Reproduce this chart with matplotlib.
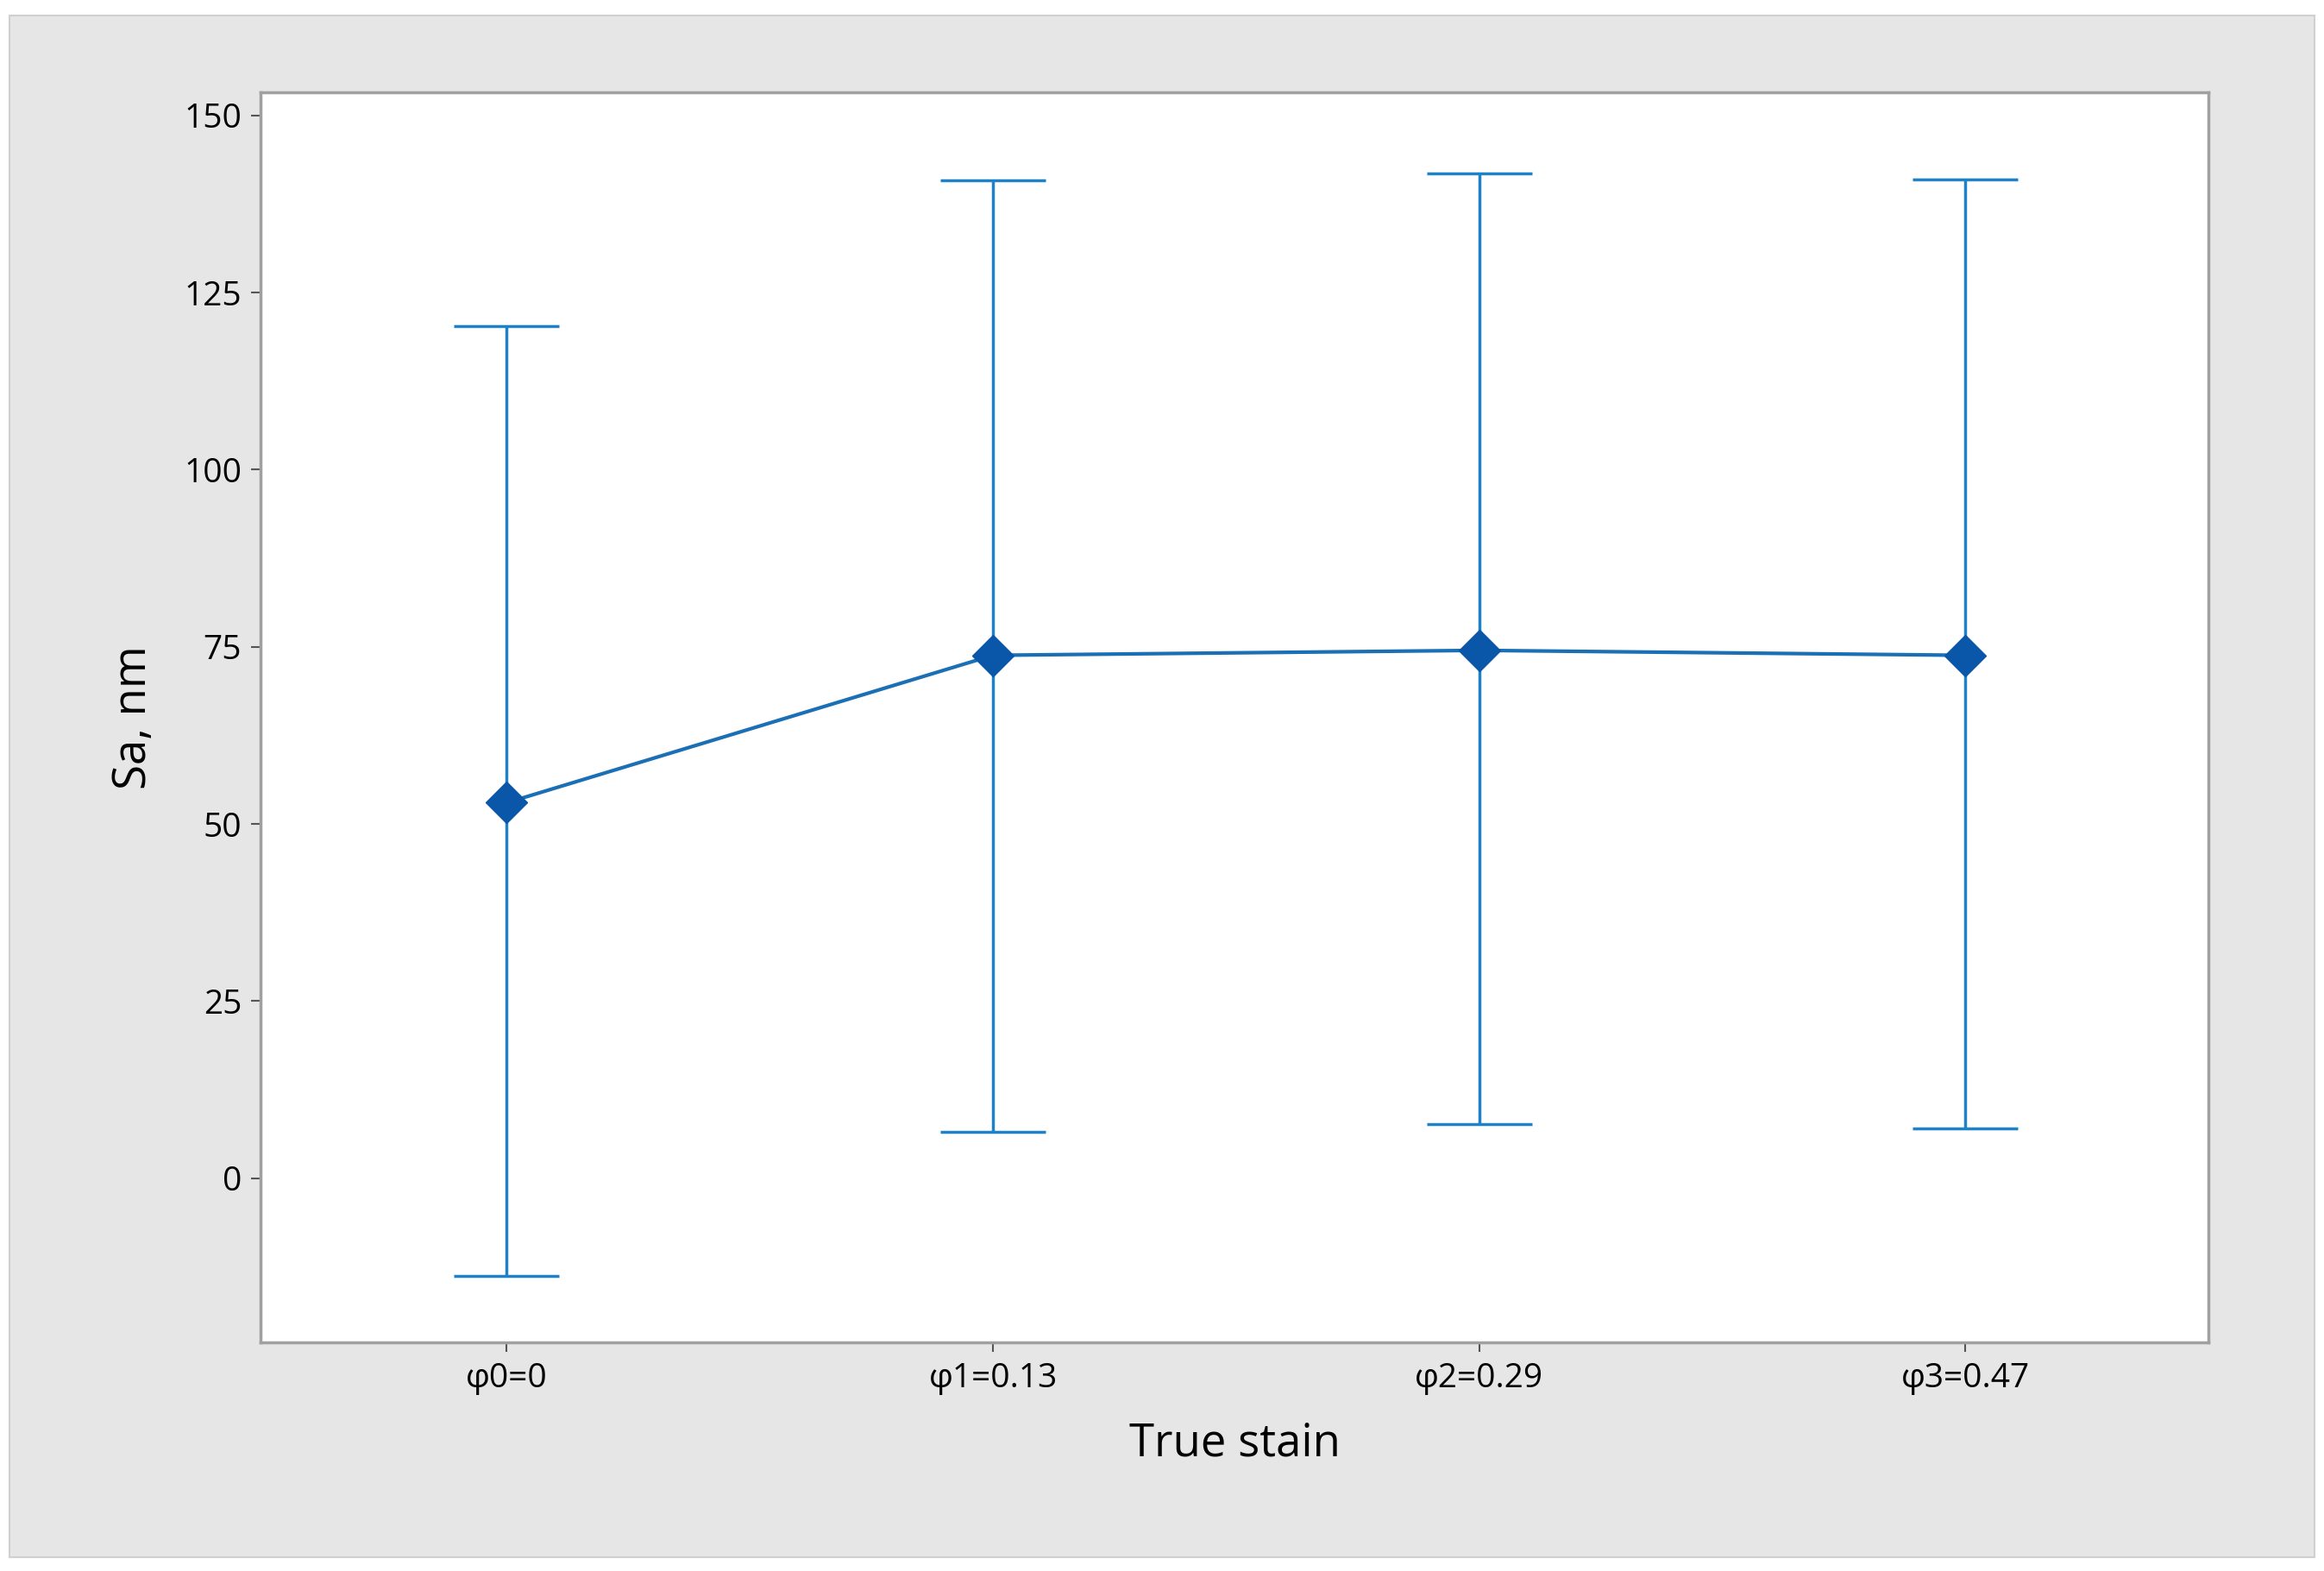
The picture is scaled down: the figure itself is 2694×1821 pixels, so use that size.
import matplotlib
matplotlib.use("Agg")
import matplotlib.pyplot as plt
from matplotlib.patches import Rectangle

categories = ["φ0=0", "φ1=0.13", "φ2=0.29", "φ3=0.47"]
means = [53.0, 73.8, 74.5, 73.8]
upper = [120.3, 140.8, 141.8, 141.0]
lower = [-13.8, 6.6, 7.6, 7.0]

plt.rcParams['font.family'] = ['Open Sans', 'DejaVu Sans']
fig = plt.figure(figsize=(26.94, 18.21), dpi=100)
fig.patch.set_facecolor('white')
fig.patches.append(Rectangle((0.004, 0.009), 0.992, 0.981, transform=fig.transFigure,
                             facecolor='#e6e6e6', edgecolor='#d0d0d0', lw=1.5, zorder=-10))
ax = fig.add_axes([0.1122, 0.1453, 0.8381, 0.7962])
ax.set_facecolor('white')
x = list(range(len(categories)))
col = '#1f82c8'
yerr = [[m - l for m, l in zip(means, lower)], [u - m for m, u in zip(means, upper)]]
ax.errorbar(x, means, yerr=yerr, fmt='none', ecolor=col, elinewidth=2.5, capsize=44, capthick=2.5)
ax.plot(x, means, color='#1a6fb5', lw=3)
ax.plot(x, means, 'D', color='#0a56a8', markersize=24, ls='none')
ax.set_xlim(-0.506, 3.5)
ax.set_ylim(-23.2, 153.3)
ax.set_yticks([0, 25, 50, 75, 100, 125, 150])
ax.set_xticks(x)
ax.set_xticklabels(categories)
ax.tick_params(labelsize=28, length=8, width=1.5, color='#555555', pad=8)
for s in ax.spines.values():
    s.set_color('#a0a0a0'); s.set_linewidth(2.5)
ax.set_xlabel("True stain", fontsize=38, fontweight='medium', labelpad=22)
ax.set_ylabel("Sa, nm", fontsize=38, fontweight='medium', labelpad=22)
fig.savefig("out.png", dpi=100, facecolor=fig.get_facecolor())
